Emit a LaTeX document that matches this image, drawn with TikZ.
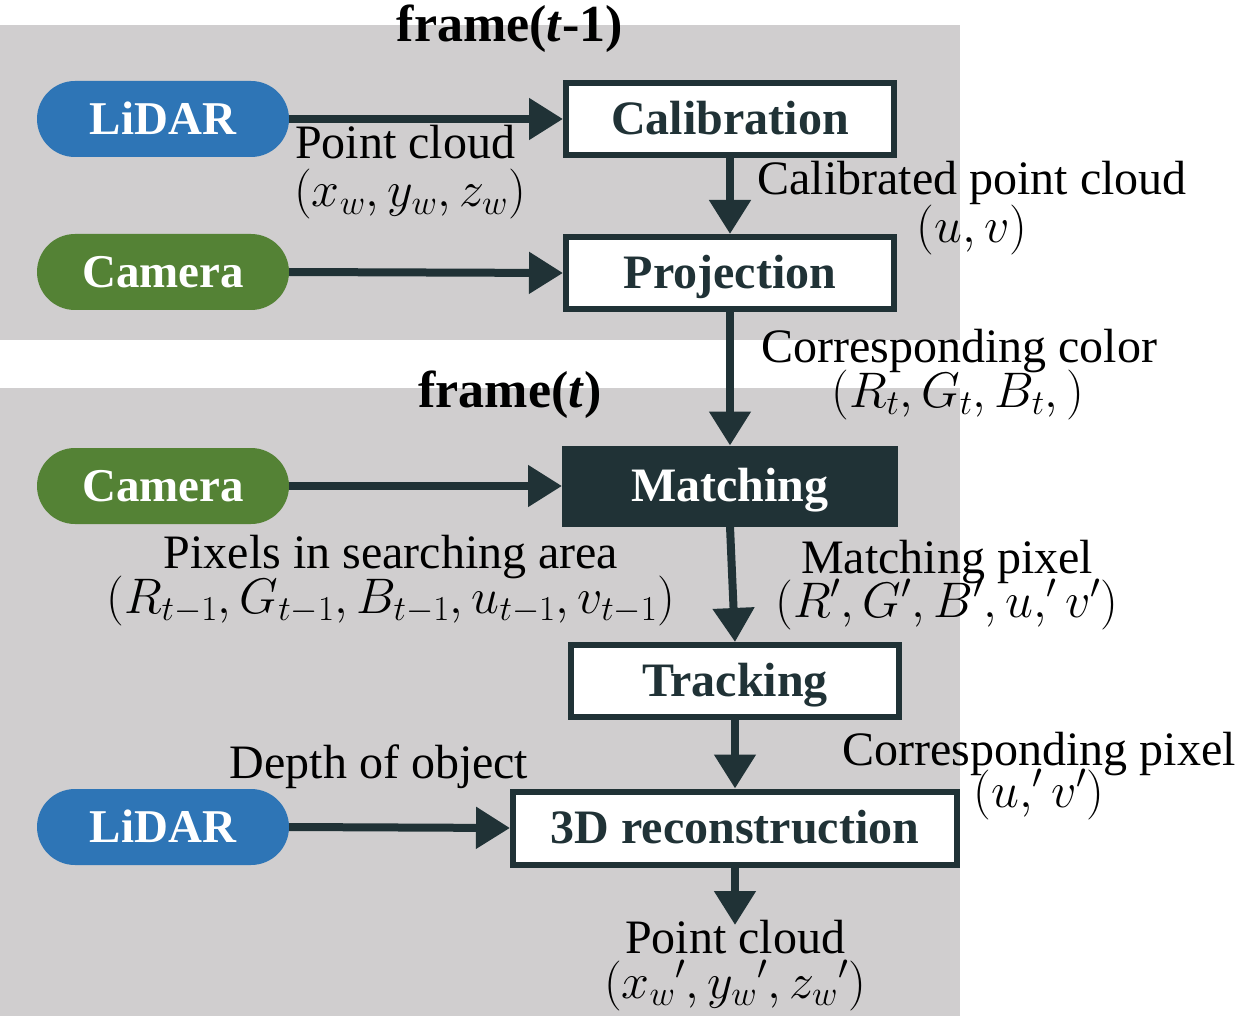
\RequirePackage{fix-cm}
\documentclass[tikz,border=0pt]{standalone}
\usepackage{fontspec}
\setmainfont{Liberation Serif}
\usetikzlibrary{arrows.meta}
\definecolor{panel}{HTML}{D0CECF}
\definecolor{ink}{HTML}{203236}
\definecolor{lidarblue}{HTML}{2E75B6}
\definecolor{camgreen}{HTML}{548235}
\begin{document}
\begin{tikzpicture}[x=1pt,y=-1pt,
  sensor/.style={rounded corners=38pt, minimum width=252pt, minimum height=76pt,
    inner sep=0pt, text=white, text height=31pt, text depth=0pt,
    font=\bfseries\fontsize{47}{50}\selectfont},
  procbox/.style={draw=ink, line width=6pt, fill=white, minimum height=72pt,
    inner sep=0pt, text=ink, text height=31pt, text depth=0pt,
    font=\bfseries\fontsize{48}{50}\selectfont},
  lbl/.style={anchor=base, inner sep=0pt, font=\fontsize{48}{50}\selectfont},
  mlbl/.style={anchor=base, inner sep=0pt, font=\fontsize{50}{54}\selectfont},
  ttl/.style={anchor=base, inner sep=0pt, font=\bfseries\fontsize{52}{56}\selectfont},
  flow/.style={draw=ink, line width=8pt, -{Triangle[length=34pt,width=40pt]}}]
\useasboundingbox (0,0) rectangle (1242,1016);
% frame backgrounds
\fill[panel] (0,25) rectangle (960,340);
\fill[panel] (0,388) rectangle (960,1016);
% titles
\node[ttl] (ft1) at (510,42) {frame(\textit{t}-1)};
\node[ttl] (ft) at (510,407) {frame(\textit{t})};
% sensors
\node[sensor, fill=lidarblue] (lidar1) at (163,119) {LiDAR};
\node[sensor, fill=camgreen] (cam1) at (163,272) {Camera};
\node[sensor, fill=camgreen] (cam2) at (163,486) {Camera};
\node[sensor, fill=lidarblue] (lidar2) at (163,827) {LiDAR};
% processing steps
\node[procbox, minimum width=328pt] (calib) at (730,119) {Calibration};
\node[procbox, minimum width=328pt] (proj) at (730,273) {Projection};
\node[procbox, minimum width=330pt, minimum height=75pt, fill=ink, text=white] (match) at (730,486) {Matching};
\node[procbox, minimum width=328pt] (track) at (735,681) {Tracking};
\node[procbox, minimum width=444pt, minimum height=73pt] (recon) at (735,828) {3D reconstruction};
\coordinate (out) at (735,925);
% connectors
\draw[flow] (lidar1.east) -- (calib.west);
\draw[flow] (cam1.east) -- (proj.west);
\draw[flow] (calib.south) -- (proj.north);
\draw[flow] (proj.south) -- (match.north);
\draw[flow] (cam2.east) -- (match.west);
\draw[flow] (match.south) -- (track.north);
\draw[flow] (track.south) -- (recon.north);
\draw[flow] (lidar2.east) -- (recon.west);
\draw[flow] (recon.south) -- (out);
% data labels
\node[lbl] (pc1) at (405,159) {Point cloud};
\node[mlbl] (pc1m) at (410,207) {$(x_w, y_w, z_w)$};
\node[lbl] (calpc) at (972,195) {Calibrated point cloud};
\node[mlbl] (calpcm) at (972,243) {$(u, v)$};
\node[lbl] (ccol) at (959,362) {Corresponding color};
\node[mlbl] (ccolm) at (958,407) {$(R_t, G_t, B_t, )$};
\node[lbl] (pix) at (391,568) {Pixels in searching area};
\node[mlbl] (pixm) at (391,613) {$(R_{t-1}, G_{t-1}, B_{t-1}, u_{t-1}, v_{t-1})$};
\node[lbl] (mpix) at (947,573) {Matching pixel};
\node[mlbl] (mpixm) at (947,617) {$(R', G', B', u,' v')$};
\node[lbl] (cpix) at (1039,765) {Corresponding pixel};
\node[mlbl] (cpixm) at (1039,807) {$(u,' v')$};
\node[lbl] (depth) at (379,778) {Depth of object};
\node[lbl] (pc2) at (735,953) {Point cloud};
\node[mlbl] (pc2m) at (735,998) {$(x_w{}', y_w{}', z_w{}')$};
\end{tikzpicture}
\end{document}
